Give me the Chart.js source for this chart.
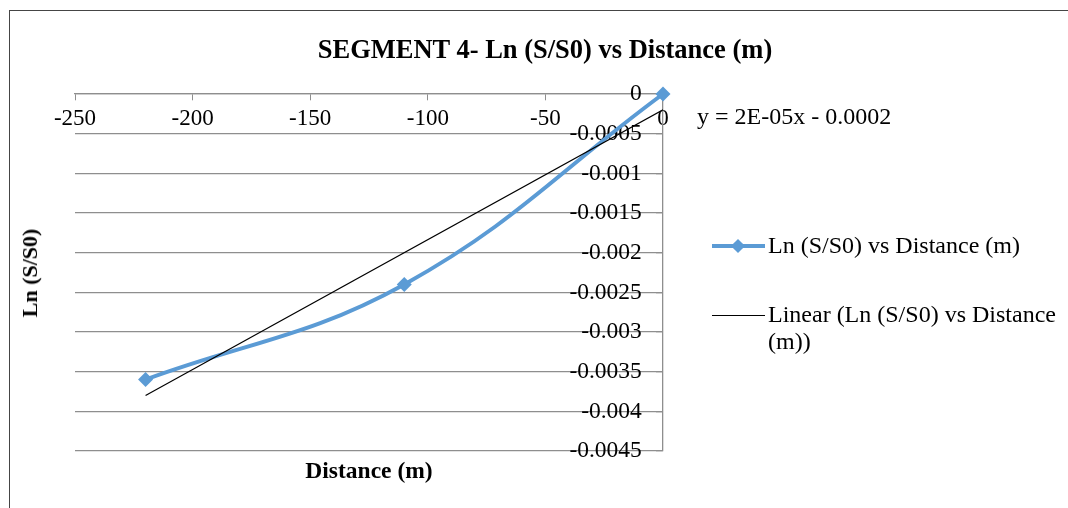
<!DOCTYPE html>
<html>
<head>
<meta charset="utf-8">
<script src="https://cdn.jsdelivr.net/npm/chart.js@4"></script>
<style>
  body { margin: 0; background: #fff; font-family: "Liberation Serif", "Times New Roman", serif; }
  #wrap { position: relative; width: 1068px; height: 508px; overflow: hidden; }
  #frame { position: absolute; left: 9px; top: 10px; width: 1200px; height: 600px;
           border-left: 1.6px solid #454545; border-top: 1.6px solid #454545; }
  canvas { position: absolute; left: 0; top: 0; }
  .txt { position: absolute; white-space: nowrap; color: #000; }
  #title { left: 545px; top: 49px; transform: translate(-50%, -50%); font-weight: bold; font-size: 26.5px; }
  #xtitle { left: 369px; top: 470px; transform: translate(-50%, -50%); font-weight: bold; font-size: 23.5px; }
  #ytitle { left: 30px; top: 273px; transform: translate(-50%, -50%) rotate(-90deg); font-weight: bold; font-size: 22px; }
  #eq { left: 697px; top: 116px; transform: translateY(-50%); font-size: 24px; }
  .leg { position: absolute; left: 712px; width: 360px; font-size: 24px; line-height: 27px; }
  .sample { position: absolute; left: 0; width: 53px; }
  .legtext { position: absolute; left: 56px; top: 0; }
  .diamond { position: absolute; left: 21px; width: 10px; height: 10px; background: #5b9bd5; transform: rotate(45deg); }
</style>
</head>
<body>
<div id="wrap">
  <div id="frame"></div>
  <canvas id="chart" width="1068" height="508"></canvas>
  <div class="txt" id="title"></div>
  <div class="txt" id="xtitle"></div>
  <div class="txt" id="ytitle"></div>
  <div class="txt" id="eq"></div>
  <div class="leg" style="top:232px;">
    <div class="sample" style="top:12px;height:4px;background:#5b9bd5;"></div>
    <div class="diamond" style="top:9px;"></div>
    <div class="legtext" id="leg1"></div>
  </div>
  <div class="leg" style="top:301px;">
    <div class="sample" style="top:14px;height:1px;background:#000;"></div>
    <div class="legtext" id="leg2" style="white-space:normal;width:300px;"></div>
  </div>
</div>
<script>
const chartTitle = "SEGMENT 4- Ln (S/S0) vs Distance (m)";
const xTitle = "Distance (m)";
const yTitle = "Ln (S/S0)";
const seriesName = "Ln (S/S0) vs Distance (m)";
const trendName = "Linear (Ln (S/S0) vs Distance (m))";

// values
const distances = [-220, -110, 0];
const lnRatio = [-0.0036, -0.0024, 0];

const xMin = -250, xMax = 0, xStep = 50;
const yMin = -0.0045, yMax = 0, yStep = 0.0005;

const blue = "#5b9bd5";
const gridGray = "#8e8e8e";
const serif = "'Liberation Serif', 'Times New Roman', serif";

// least squares fit, like the Excel linear trendline
function linearFit(xs, ys) {
  const n = xs.length;
  const mx = xs.reduce((a, b) => a + b, 0) / n;
  const my = ys.reduce((a, b) => a + b, 0) / n;
  let sxy = 0, sxx = 0;
  xs.forEach((x, i) => {
    sxy += (x - mx) * (ys[i] - my);
    sxx += (x - mx) * (x - mx);
  });
  const slope = sxy / sxx;
  return { slope, intercept: my - slope * mx };
}

function excelNum(v) {
  if (Math.abs(v) < 0.0001 && v !== 0) {
    const [m, e] = v.toExponential(0).split("e");
    const exp = parseInt(e, 10);
    return m + "E" + (exp < 0 ? "-" : "+") + String(Math.abs(exp)).padStart(2, "0");
  }
  return String(Number(v.toPrecision(1)));
}

const fit = linearFit(distances, lnRatio);
const trendX = [Math.min(...distances), Math.max(...distances)];
const trendPoints = trendX.map((x) => ({ x, y: fit.slope * x + fit.intercept }));

document.getElementById("title").textContent = chartTitle;
document.getElementById("xtitle").textContent = xTitle;
document.getElementById("ytitle").textContent = yTitle;
document.getElementById("leg1").textContent = seriesName;
document.getElementById("leg2").textContent = trendName;
const b = fit.intercept;
document.getElementById("eq").textContent =
  "y = " + excelNum(fit.slope) + "x " + (b < 0 ? "- " : "+ ") + excelNum(Math.abs(b));

new Chart(document.getElementById("chart"), {
  type: "scatter",
  data: {
    datasets: [
      {
        label: trendName,
        data: trendPoints,
        showLine: true,
        borderColor: "#000",
        borderWidth: 1.2,
        pointRadius: 0,
        tension: 0,
        order: 0,
      },
      {
        label: seriesName,
        data: distances.map((x, i) => ({ x, y: lnRatio[i] })),
        showLine: true,
        clip: false,
        borderColor: blue,
        backgroundColor: blue,
        borderWidth: 4,
        tension: 0.4,
        pointStyle: "rectRot",
        pointRadius: 7.5,
        pointBorderWidth: 0,
        order: 1,
      },
    ],
  },
  options: {
    responsive: false,
    animation: false,
    layout: { padding: { left: 75, right: 405, top: 94, bottom: 57 } },
    plugins: { legend: { display: false }, tooltip: { enabled: false } },
    scales: {
      x: {
        type: "linear",
        position: { y: 0 },
        min: xMin,
        max: xMax,
        ticks: { stepSize: xStep, color: "#000", padding: 5, maxRotation: 0,
                 font: { family: serif, size: 23 } },
        grid: { drawOnChartArea: false, drawTicks: true, tickLength: 6, color: gridGray },
        border: { color: gridGray, width: 1.3 },
      },
      y: {
        type: "linear",
        position: { x: 0 },
        min: yMin,
        max: yMax,
        ticks: {
          stepSize: yStep,
          color: "#000",
          font: { family: serif, size: 23.5 },
          // labels sit a little left of the axis line
          callback: (v) => String(Number(v.toFixed(4))) + "\u2002\u2009\u2009",
        },
        grid: { color: gridGray, lineWidth: 1.3, tickLength: 6 },
        border: { color: gridGray, width: 1.3 },
      },
    },
  },
});
</script>
</body>
</html>
